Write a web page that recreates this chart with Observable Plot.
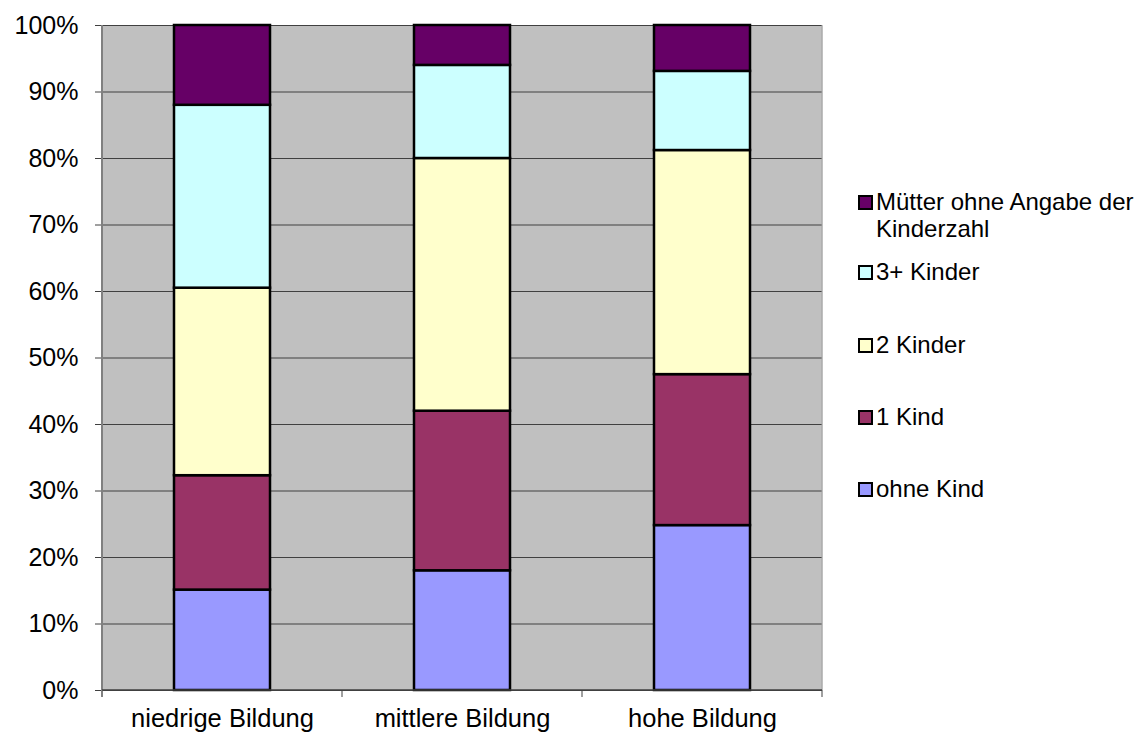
<!DOCTYPE html>
<html>
<head>
<meta charset="utf-8">
<script src="https://cdn.jsdelivr.net/npm/d3@7"></script>
<script src="https://cdn.jsdelivr.net/npm/@observablehq/plot@0.6"></script>
<style>
  body { margin: 0; background: #fff; font-family: "Liberation Sans", Arial, sans-serif; }
  #wrap { position: relative; width: 1145px; height: 733px; overflow: hidden; }
  #legend { position: absolute; left: 0; top: 0; width: 1145px; height: 733px; pointer-events: none; }
  .item { position: absolute; left: 858px; font-size: 24px; line-height: 27px; color: #000; display: flex; align-items: flex-start; }
  .sw { width: 11px; height: 11px; border: 2px solid #000; margin-top: 7px; margin-right: 3px; flex: none; }
</style>
</head>
<body>
<div id="wrap"><div id="legend"></div></div>
<script>
const categories = ["niedrige Bildung", "mittlere Bildung", "hohe Bildung"];
const seriesNames = ["ohne Kind", "1 Kind", "2 Kinder", "3+ Kinder", "Mütter ohne Angabe der Kinderzahl"];
const seriesColors = ["#9999FF", "#993366", "#FFFFCC", "#CCFFFF", "#660066"];
const ohneKind = [15.1, 18.0, 24.8];
const einKind = [17.2, 24.0, 22.7];
const zweiKinder = [28.2, 38.0, 33.7];
const dreiPlusKinder = [27.5, 14.0, 11.9];
const ohneAngabe = [12.0, 6.0, 6.9];
const yTicks = [0, 10, 20, 30, 40, 50, 60, 70, 80, 90, 100];

const seriesValues = [ohneKind, einKind, zweiKinder, dreiPlusKinder, ohneAngabe];
const data = [];
seriesNames.forEach((s, i) => {
  categories.forEach((c, j) => data.push({cat: c, series: s, value: seriesValues[i][j]}));
});

const plot = Plot.plot({
  width: 1145,
  height: 733,
  marginLeft: 102,
  marginRight: 323,
  marginTop: 25,
  marginBottom: 43,
  style: {fontFamily: "'Liberation Sans', Arial, sans-serif", background: "transparent"},
  x: {domain: categories, paddingInner: 0.6, paddingOuter: 0.3, label: null},
  y: {domain: [0, 100], label: null},
  color: {domain: seriesNames, range: seriesColors},
  marks: [
    Plot.frame({fill: "#C0C0C0"}),
    Plot.gridY(yTicks, {stroke: "#404040", strokeOpacity: 1, strokeWidth: 1}),
    Plot.barY(data, {x: "cat", y: "value", fill: "series", stroke: "#000", strokeWidth: 2.5}),
    Plot.axisY(yTicks, {tickSize: 7, tickPadding: 17, tickFormat: d => d + "%", fontSize: 25, stroke: "#404040", label: null}),
    Plot.axisX({tickSize: 0, tickPadding: 18, fontSize: 25.5, label: null})
  ]
});
document.getElementById("wrap").prepend(plot);

// axis lines and category-boundary ticks from the x scale
const xs = plot.scale("x");
const ys = plot.scale("y");
const svg = d3.select(plot);
const step = xs.step;
const x0 = xs.apply(categories[0]) - (step - xs.bandwidth) / 2;
const y0 = ys.apply(0), y1 = ys.apply(100);
const xEnd = x0 + step * categories.length;
svg.append("line").attr("x1", x0).attr("x2", x0).attr("y1", y1).attr("y2", y0 + 7)
  .attr("stroke", "#808080").attr("stroke-width", 2);
svg.append("line").attr("x1", xEnd).attr("x2", xEnd).attr("y1", y1).attr("y2", y0)
  .attr("stroke", "#A0A0A0").attr("stroke-width", 1);
svg.append("line").attr("x1", x0).attr("x2", xEnd).attr("y1", y0).attr("y2", y0)
  .attr("stroke", "#404040").attr("stroke-width", 1.5);
for (let k = 1; k <= categories.length; k++) {
  const xx = x0 + step * k;
  svg.append("line").attr("x1", xx).attr("x2", xx).attr("y1", y0).attr("y2", y0 + 7)
    .attr("stroke", "#404040").attr("stroke-width", 1);
}

// legend (top item = last series)
const legend = document.getElementById("legend");
const legendTops = [475, 403, 331, 258, 188];
seriesNames.forEach((s, i) => {
  const div = document.createElement("div");
  div.className = "item";
  div.style.top = legendTops[i] + "px";
  const sw = document.createElement("span");
  sw.className = "sw";
  sw.style.background = seriesColors[i];
  const t = document.createElement("span");
  if (s === "Mütter ohne Angabe der Kinderzahl") {
    t.innerHTML = "Mütter ohne Angabe der<br>Kinderzahl";
  } else {
    t.textContent = s;
  }
  div.appendChild(sw);
  div.appendChild(t);
  legend.appendChild(div);
});
</script>
</body>
</html>
